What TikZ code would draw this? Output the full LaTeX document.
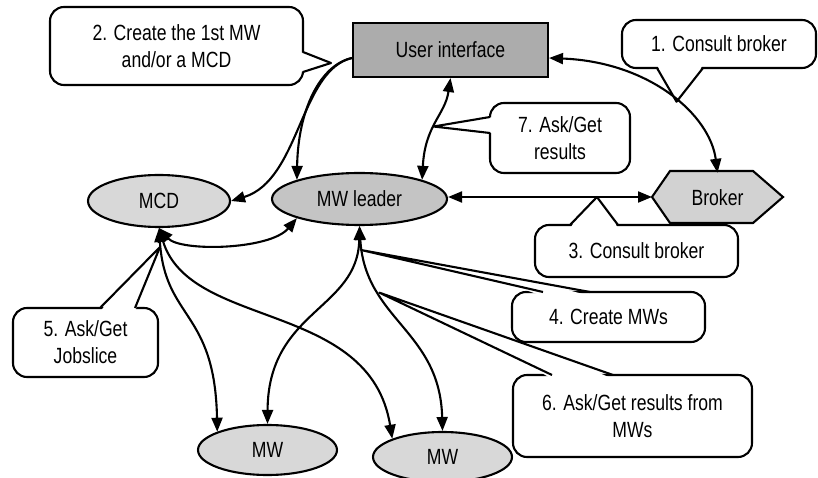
\documentclass[tikz,border=0pt]{standalone}
\usepackage{fontspec}
\setmainfont{Liberation Sans}[FakeStretch=0.80]
\usetikzlibrary{arrows.meta,shapes.geometric,calc}
\definecolor{uigray}{RGB}{172,172,172}
\definecolor{mwlgray}{RGB}{196,196,196}
\definecolor{mcdgray}{RGB}{216,216,216}
\definecolor{brokergray}{RGB}{210,210,210}
\definecolor{mwgray}{RGB}{216,216,216}
\tikzset{
  lw/.style={line width=2.1pt},
  conn/.style={lw, {Triangle[length=14pt,width=11pt]}-{Triangle[length=14pt,width=11pt]}},
  oneway/.style={lw, -{Triangle[length=14pt,width=11pt]}},
  callout/.style={draw, lw, fill=white, rounded corners=14pt, align=center, inner sep=0pt},
  ell/.style={ellipse, draw, lw, inner sep=0pt},
  wedgeline/.style={lw, line join=round},
  txt/.style={font=\fontsize{22}{27}\selectfont}
}
\newcommand\pwedge[4]{%
  \fill[white] ($(#1)+(#4)$) -- ($(#1)!0.2!(#2)$) -- ($(#3)!0.2!(#2)$) -- ($(#3)+(#4)$) -- cycle;
  \draw[wedgeline] (#1) -- (#2) -- (#3);}
\begin{document}
\begin{tikzpicture}[x=1pt,y=-1pt,every node/.style={txt}]
\useasboundingbox (0,0) rectangle (818,478);
\fill[white] (0,0) rectangle (818,478);
% shapes
\draw[lw, fill=brokergray, line join=miter] (652,197) -- (670,171) -- (753,171) -- (783,197) -- (753,223) -- (670,223) -- cycle;
\node[minimum width=131pt, minimum height=52pt, inner sep=0pt] (broker) at (717.5,198) {Broker};
\node[draw, lw, fill=uigray, minimum width=195pt, minimum height=54pt, inner sep=0pt] (ui) at (450.5,50) {User interface};
\node[ell, fill=mcdgray, minimum width=142pt, minimum height=52pt] (mcd) at (159,201) {MCD};
\node[ell, fill=mwlgray, minimum width=175pt, minimum height=52pt] (mwl) at (359.5,199) {MW leader};
\node[ell, fill=mwgray, minimum width=139pt, minimum height=50pt] (mw1) at (267.5,450) {MW};
\node[ell, fill=mwgray, minimum width=139pt, minimum height=50pt] (mw2) at (442.5,457) {MW};
% connectors
\draw[conn] ([yshift=-8pt]ui.east) .. controls (650,62) and (710,115) .. ([yshift=-1pt]broker.north) coordinate[pos=0.55] (t1);
\draw[conn] (ui.south) .. controls (445,115) and (425,125) .. (mwl.north east) coordinate[pos=0.55] (t7);
\draw[conn] (mwl.east |- 0,197) -- (652,197) coordinate[pos=0.73] (t3);
\draw[oneway] ([yshift=-8pt]ui.west) .. controls (300,70) and (300,180) .. (mcd.east);
\draw[oneway] ([yshift=-8pt]ui.west) .. controls (320,65) and (298,110) .. (mwl.north west);
\draw[conn] (mcd.south) .. controls (180,252) and (270,250) .. (mwl.south west);
\draw[conn] (mcd.south) .. controls (165,320) and (215,310) .. (mw1.160);
\draw[conn] (mcd.south) .. controls (190,330) and (370,300) .. (mw2.160);
\draw[conn] (mwl.south) .. controls (358,310) and (268,310) .. (mw1.north);
\draw[conn] (mwl.south) .. controls (365,320) and (440,330) .. (mw2.north) coordinate[pos=0.3] (t6);
\coordinate (t2) at (331,63);
\coordinate (t4) at (361,250);
\coordinate (t5) at (160,247);
% callouts
\node[callout, minimum width=253pt, minimum height=78pt] (c2) at (176.5,46) {2. Create the 1st MW\\and/or a MCD};
\node[callout, minimum width=194pt, minimum height=48pt] (c1) at (719,44) {1. Consult broker};
\node[callout, minimum width=140pt, minimum height=70pt] (c7) at (560,138) {7. Ask/Get\\results};
\node[callout, minimum width=203pt, minimum height=52pt] (c3) at (636.5,251) {3. Consult broker};
\node[callout, minimum width=193pt, minimum height=50pt] (c4) at (608.5,317) {4. Create MWs};
\node[callout, minimum width=145pt, minimum height=69pt] (c5) at (85.5,342.5) {5. Ask/Get\\Jobslice};
\node[callout, minimum width=239pt, minimum height=82pt] (c6) at (632.5,416) {6. Ask/Get results from\\MWs};
\pwedge{303,52}{t2}{303,72}{-4,0}
\pwedge{657,68}{t1}{703,68}{0,-4}
\pwedge{490,117}{t7}{490,133}{4,0}
\pwedge{570,225}{t3}{618,225}{0,4}
\pwedge{543,292}{t4}{590,292}{0,4}
\pwedge{100,308}{t5}{135,308}{0,4}
\pwedge{552,375}{t6}{613,375}{0,4}
\end{tikzpicture}
\end{document}
